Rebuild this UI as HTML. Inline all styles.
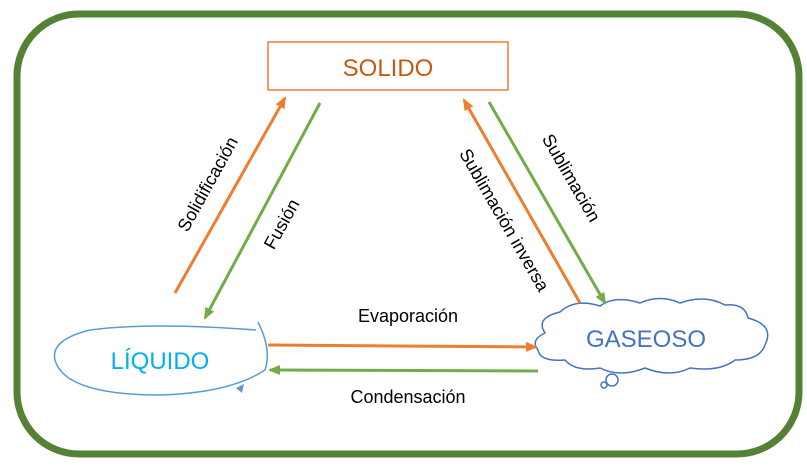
<!DOCTYPE html>
<html><head><meta charset="utf-8"><style>html,body{margin:0;padding:0;background:#fff}svg{display:block}</style></head><body>
<svg width="807" height="467" viewBox="0 0 807 467" xmlns="http://www.w3.org/2000/svg" font-family="Liberation Sans, sans-serif">
<defs>
<marker id="ao" markerWidth="12" markerHeight="12" refX="10" refY="6" orient="auto" markerUnits="userSpaceOnUse"><path d="M0,1 L12,6 L0,11 Z" fill="#ED7D31"/></marker>
<marker id="ag" markerWidth="12" markerHeight="12" refX="10" refY="6" orient="auto" markerUnits="userSpaceOnUse"><path d="M0,1 L12,6 L0,11 Z" fill="#70AD47"/></marker>
</defs>
<rect x="17" y="14" width="782" height="440" rx="62" fill="none" stroke="#548235" stroke-width="7"/>
<rect x="268" y="42" width="240" height="48" fill="#fff" stroke="#ED7D31" stroke-width="1.5"/>
<text x="388" y="76" font-size="24" fill="#C55A11" text-anchor="middle">SOLIDO</text>
<path d="M256,330 Q150,322 90,330 Q50,340 55,360 Q65,395 160,395 Q230,393 265,370 Q272,350 258,322" fill="none" stroke="#5B9BD5" stroke-width="1.5"/>
<path d="M236,388 L244,384 L242,393 Z" fill="#5B9BD5"/>
<text x="160" y="369" font-size="24" fill="#00B0F0" text-anchor="middle">LÍQUIDO</text>
<path d="M560,312 Q575,298 600,306 Q615,295 640,303 Q660,294 680,303 Q705,294 725,305 Q745,303 748,318 Q775,325 765,345 Q760,360 735,360 Q720,372 690,368 Q670,378 645,368 Q620,378 600,368 Q575,372 565,360 Q540,362 538,350 Q530,340 545,333 Q535,318 560,312 Z" fill="#fff" stroke="#4472C4" stroke-width="1.5"/>
<circle cx="612" cy="380" r="6" fill="#fff" stroke="#4472C4" stroke-width="1.5"/>
<circle cx="604" cy="385" r="3" fill="#fff" stroke="#4472C4" stroke-width="1.5"/>
<text x="646" y="347" font-size="24" fill="#4472C4" text-anchor="middle">GASEOSO</text>
<line x1="175" y1="293" x2="285" y2="98" stroke="#ED7D31" stroke-width="3" marker-end="url(#ao)"/>
<line x1="320" y1="103" x2="205" y2="318" stroke="#70AD47" stroke-width="3" marker-end="url(#ag)"/>
<line x1="580" y1="303" x2="464" y2="100" stroke="#ED7D31" stroke-width="3" marker-end="url(#ao)"/>
<line x1="489" y1="102" x2="605" y2="303" stroke="#70AD47" stroke-width="3" marker-end="url(#ag)"/>
<line x1="268" y1="345" x2="536" y2="347" stroke="#ED7D31" stroke-width="3" marker-end="url(#ao)"/>
<line x1="538" y1="371" x2="270" y2="370" stroke="#70AD47" stroke-width="3" marker-end="url(#ag)"/>
<text x="408" y="322" font-size="18" text-anchor="middle">Evaporación</text>
<text x="408" y="403" font-size="18" text-anchor="middle">Condensación</text>
<text transform="translate(213,187) rotate(-61)" font-size="18" text-anchor="middle">Solidificación</text>
<text transform="translate(287,227) rotate(-61)" font-size="18" text-anchor="middle">Fusión</text>
<text transform="translate(499,223) rotate(60)" font-size="18" text-anchor="middle">Sublimación inversa</text>
<text transform="translate(566,181) rotate(60)" font-size="18" text-anchor="middle">Sublimación</text>
</svg>
</body></html>
